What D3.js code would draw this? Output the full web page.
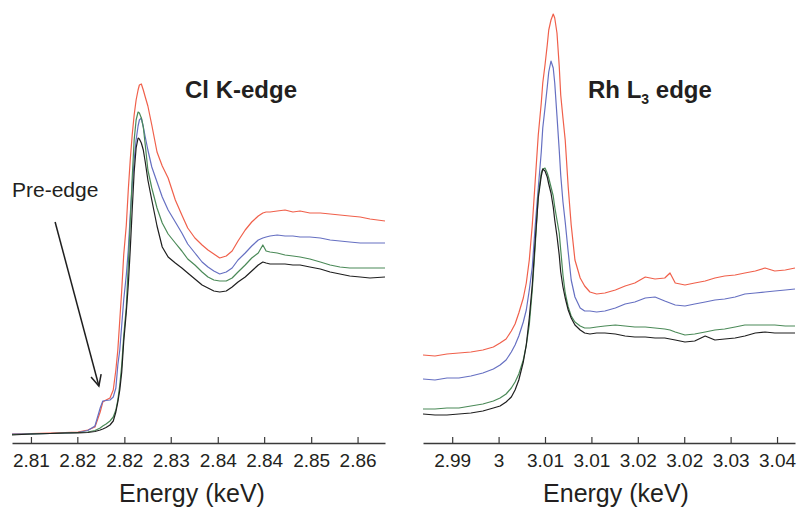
<!DOCTYPE html>
<html>
<head>
<meta charset="utf-8">
<script src="https://cdn.jsdelivr.net/npm/d3@7"></script>
<style>
  html, body { margin: 0; padding: 0; background: #ffffff; }
  svg { display: block; }
  text { font-family: "Liberation Sans", Arial, Helvetica, sans-serif; fill: #231f20; }
</style>
</head>
<body>
<div id="chart"></div>
<script>
// ---------------- DATA ----------------
// Cl K-edge panel (energy in keV, normalized absorbance)
const clEnergy = [2.8051, 2.8080, 2.8109, 2.8132, 2.8152, 2.8167, 2.8178, 2.8186, 2.8190, 2.8195,
  2.8201, 2.8206, 2.8210, 2.8213, 2.8216, 2.8219, 2.8222, 2.8226, 2.8229, 2.8232,
  2.8235, 2.8238, 2.8241, 2.8244, 2.8246, 2.8249, 2.8252, 2.8255, 2.8259, 2.8265,
  2.8273, 2.8281, 2.8290, 2.8301, 2.8311, 2.8320, 2.8331, 2.8342, 2.8351, 2.8360,
  2.8369, 2.8379, 2.8388, 2.8397, 2.8408, 2.8418, 2.8428, 2.8435, 2.8440, 2.8446,
  2.8457, 2.8469, 2.8481, 2.8492, 2.8507, 2.8523, 2.8538, 2.8553, 2.8568, 2.8584,
  2.8599, 2.8622];
const clRed = [0.01, 0.015, 0.02, 0.025, 0.03, 0.05, 0.08, 0.23, 0.33, 0.35,
  0.37, 0.45, 0.65, 0.85, 1.15, 1.45, 1.80, 2.10, 2.45, 2.75,
  3.00, 3.20, 3.35, 3.45, 3.50, 3.51, 3.45, 3.38, 3.29, 3.10,
  2.83, 2.69, 2.57, 2.35, 2.20, 2.07, 1.97, 1.90, 1.85, 1.81,
  1.77, 1.79, 1.84, 1.94, 2.05, 2.13, 2.19, 2.22, 2.23, 2.23,
  2.24, 2.25, 2.23, 2.24, 2.22, 2.22, 2.21, 2.20, 2.19, 2.18,
  2.16, 2.14];
const clBlue = [0.01, 0.012, 0.015, 0.02, 0.025, 0.045, 0.09, 0.27, 0.34, 0.345,
  0.35, 0.38, 0.47, 0.70, 0.85, 1.10, 1.35, 1.60, 1.85, 2.20,
  2.50, 2.75, 2.95, 3.09, 3.15, 3.17, 3.08, 2.98, 2.85, 2.68,
  2.53, 2.38, 2.25, 2.13, 2.02, 1.91, 1.82, 1.73, 1.68, 1.64,
  1.61, 1.63, 1.67, 1.75, 1.82, 1.89, 1.95, 1.97, 1.98, 1.99,
  2.00, 1.99, 1.99, 1.98, 1.98, 1.97, 1.95, 1.94, 1.93, 1.92,
  1.92, 1.92];
const clGreen = [0.005, 0.01, 0.015, 0.02, 0.025, 0.03, 0.045, 0.07, 0.09, 0.11,
  0.14, 0.18, 0.25, 0.35, 0.50, 0.70, 0.99, 1.28, 1.70, 2.13,
  2.57, 2.95, 3.15, 3.23, 3.22, 3.17, 3.08, 2.90, 2.65, 2.47,
  2.27, 2.12, 2.01, 1.92, 1.84, 1.76, 1.70, 1.63, 1.58, 1.55,
  1.54, 1.54, 1.57, 1.63, 1.70, 1.77, 1.82, 1.90, 1.84, 1.83,
  1.82, 1.80, 1.79, 1.78, 1.76, 1.73, 1.70, 1.68, 1.67, 1.67,
  1.67, 1.67];
const clBlack = [0.00, 0.01, 0.015, 0.02, 0.022, 0.025, 0.035, 0.05, 0.06, 0.075,
  0.10, 0.14, 0.23, 0.33, 0.45, 0.63, 0.93, 1.23, 1.50, 1.85,
  2.25, 2.63, 2.87, 2.97, 2.96, 2.92, 2.85, 2.73, 2.55, 2.35,
  2.09, 1.88, 1.78, 1.72, 1.67, 1.62, 1.56, 1.50, 1.47, 1.44,
  1.43, 1.44, 1.48, 1.53, 1.58, 1.64, 1.70, 1.73, 1.72, 1.71,
  1.71, 1.71, 1.70, 1.70, 1.68, 1.66, 1.63, 1.61, 1.59, 1.58,
  1.57, 1.58];

// Rh L3 edge panel
const rhEnergy = [2.9891, 2.9907, 2.9923, 2.9939, 2.9955, 2.9971, 2.9985, 2.9994, 3.0002, 3.0009,
  3.0014, 3.0019, 3.0025, 3.0029, 3.0033, 3.0037, 3.0041, 3.0045, 3.0049, 3.0051,
  3.0054, 3.0057, 3.0059, 3.0062, 3.0065, 3.0067, 3.0070, 3.0073, 3.0075, 3.0078,
  3.0081, 3.0085, 3.0089, 3.0094, 3.0101, 3.0107, 3.0114, 3.0123, 3.0134, 3.0148,
  3.0161, 3.0174, 3.0188, 3.0201, 3.0214, 3.0221, 3.0228, 3.0241, 3.0254, 3.0268,
  3.0281, 3.0294, 3.0308, 3.0321, 3.0335, 3.0348, 3.0361, 3.0375, 3.0388];
const rhRed = [0.80, 0.79, 0.81, 0.82, 0.83, 0.85, 0.88, 0.92, 0.96, 1.04,
  1.11, 1.22, 1.37, 1.52, 1.75, 2.10, 2.55, 3.00, 3.32, 3.52,
  3.70, 3.90, 4.05, 4.15, 4.21, 4.17, 4.02, 3.69, 3.40, 3.17,
  2.95, 2.48, 2.10, 1.75, 1.57, 1.49, 1.43, 1.41, 1.42, 1.45,
  1.49, 1.52, 1.58, 1.56, 1.57, 1.62, 1.52, 1.50, 1.52, 1.54,
  1.57, 1.59, 1.60, 1.62, 1.64, 1.67, 1.64, 1.65, 1.67];
const rhBlue = [0.56, 0.55, 0.57, 0.57, 0.59, 0.62, 0.66, 0.70, 0.75, 0.83,
  0.90, 0.99, 1.13, 1.25, 1.45, 1.68, 2.10, 2.47, 2.83, 3.07,
  3.27, 3.48, 3.63, 3.74, 3.67, 3.52, 3.19, 2.85, 2.60, 2.33,
  2.13, 1.83, 1.55, 1.38, 1.27, 1.24, 1.24, 1.23, 1.24, 1.27,
  1.31, 1.33, 1.37, 1.38, 1.34, 1.32, 1.30, 1.29, 1.31, 1.33,
  1.35, 1.36, 1.38, 1.41, 1.42, 1.43, 1.44, 1.45, 1.46];
const rhGreen = [0.26, 0.26, 0.27, 0.27, 0.29, 0.31, 0.34, 0.37, 0.41, 0.47,
  0.53, 0.61, 0.75, 0.90, 1.10, 1.45, 1.90, 2.40, 2.62, 2.66,
  2.67, 2.62, 2.57, 2.48, 2.39, 2.28, 2.15, 2.02, 1.85, 1.60,
  1.42, 1.28, 1.19, 1.13, 1.09, 1.07, 1.07, 1.08, 1.09, 1.10,
  1.09, 1.08, 1.08, 1.07, 1.06, 1.05, 1.03, 1.00, 1.01, 1.03,
  1.05, 1.06, 1.08, 1.10, 1.10, 1.10, 1.10, 1.09, 1.09];
const rhBlack = [0.21, 0.20, 0.20, 0.21, 0.22, 0.24, 0.27, 0.29, 0.33, 0.38,
  0.45, 0.55, 0.73, 0.90, 1.17, 1.50, 1.95, 2.37, 2.59, 2.66,
  2.64, 2.58, 2.51, 2.42, 2.28, 2.15, 1.99, 1.80, 1.63, 1.48,
  1.37, 1.25, 1.17, 1.10, 1.05, 1.02, 1.01, 1.02, 1.02, 1.01,
  0.99, 0.98, 0.98, 0.97, 0.97, 0.96, 0.95, 0.93, 0.94, 0.99,
  0.95, 0.96, 0.97, 0.99, 1.02, 1.03, 1.02, 1.02, 1.02];

// Axis ticks
const clTicks = [2.808, 2.8151, 2.8223, 2.8294, 2.8366, 2.8437, 2.8509, 2.858];
const clTickLabels = ["2.81", "2.82", "2.82", "2.83", "2.84", "2.84", "2.85", "2.86"];
const rhTicks = [2.993, 2.9992, 3.0054, 3.0116, 3.0178, 3.0240, 3.0302, 3.0364];
const rhTickLabels = ["2.99", "3", "3.01", "3.01", "3.02", "3.02", "3.03", "3.04"];

// Pre-edge annotation (data coords: arrow tail -> tip)
const preEdgeArrow = { from: [2.8117, 2.13], to: [2.8184, 0.49] };

// ---------------- STYLE ----------------
const colors = { red: "#f0604b", blue: "#6670c2", green: "#4b8a58", black: "#1f1f1f" };

// ---------------- CHART ----------------
const W = 797, H = 510;
const svg = d3.select("#chart").append("svg").attr("width", W).attr("height", H);

const xCl = d3.scaleLinear().domain([2.8051, 2.8622]).range([12, 385]);
const xRh = d3.scaleLinear().domain([2.9891, 3.0388]).range([423, 795]);
const y = d3.scaleLinear().domain([0, 1]).range([435, 335]);
const axisY = 443;

function drawPanel(x, energy, series, ticks, labels) {
  const line = d3.line().x((d, i) => x(energy[i])).y(d => y(d));
  series.forEach(s => {
    svg.append("path")
      .datum(s.values)
      .attr("d", line)
      .attr("fill", "none")
      .attr("stroke", s.color)
      .attr("stroke-width", 1.2)
      .attr("stroke-linejoin", "round");
  });
  const axis = d3.axisBottom(x)
    .tickValues(ticks)
    .tickFormat((d, i) => labels[i])
    .tickSizeInner(-6)
    .tickSizeOuter(0)
    .tickPadding(11);
  const g = svg.append("g").attr("transform", `translate(0,${axisY})`).call(axis);
  g.select(".domain").attr("stroke", "#3a3a3a").attr("stroke-width", 1.3);
  g.selectAll(".tick line").attr("stroke", "#3a3a3a").attr("stroke-width", 1.2);
  g.selectAll(".tick text")
    .attr("font-size", 19)
    .attr("font-family", "Liberation Sans, Arial, sans-serif")
    .attr("fill", "#231f20");
}

drawPanel(xCl, clEnergy, [
  { values: clRed, color: colors.red },
  { values: clBlue, color: colors.blue },
  { values: clGreen, color: colors.green },
  { values: clBlack, color: colors.black }
], clTicks, clTickLabels);

drawPanel(xRh, rhEnergy, [
  { values: rhRed, color: colors.red },
  { values: rhBlue, color: colors.blue },
  { values: rhGreen, color: colors.green },
  { values: rhBlack, color: colors.black }
], rhTicks, rhTickLabels);

// Titles
svg.append("text").attr("x", 185).attr("y", 98)
  .attr("font-size", 24).attr("font-weight", "bold").text("Cl K-edge");
const rhT = svg.append("text").attr("x", 588).attr("y", 98)
  .attr("font-size", 24).attr("font-weight", "bold");
rhT.append("tspan").text("Rh L");
rhT.append("tspan").attr("font-size", 14).attr("dy", 6).text("3");
rhT.append("tspan").attr("dy", -6).text(" edge");

// Axis titles
svg.append("text").attr("x", 192).attr("y", 502).attr("text-anchor", "middle")
  .attr("font-size", 25).text("Energy (keV)");
svg.append("text").attr("x", 616).attr("y", 502).attr("text-anchor", "middle")
  .attr("font-size", 25).text("Energy (keV)");

// Pre-edge annotation
svg.append("text").attr("x", 12).attr("y", 197).attr("font-size", 21).text("Pre-edge");
const ax0 = xCl(preEdgeArrow.from[0]), ay0 = y(preEdgeArrow.from[1]);
const ax1 = xCl(preEdgeArrow.to[0]), ay1 = y(preEdgeArrow.to[1]);
svg.append("line").attr("x1", ax0).attr("y1", ay0).attr("x2", ax1).attr("y2", ay1)
  .attr("stroke", "#1f1f1f").attr("stroke-width", 1.5);
const ang = Math.atan2(ay1 - ay0, ax1 - ax0);
const headLen = 12, headAng = 0.45;
const hp = [
  [ax1 - headLen * Math.cos(ang - headAng), ay1 - headLen * Math.sin(ang - headAng)],
  [ax1, ay1],
  [ax1 - headLen * Math.cos(ang + headAng), ay1 - headLen * Math.sin(ang + headAng)]
];
svg.append("path").attr("d", d3.line()(hp))
  .attr("fill", "none").attr("stroke", "#1f1f1f").attr("stroke-width", 1.5)
  .attr("stroke-linejoin", "miter");
</script>
</body>
</html>
